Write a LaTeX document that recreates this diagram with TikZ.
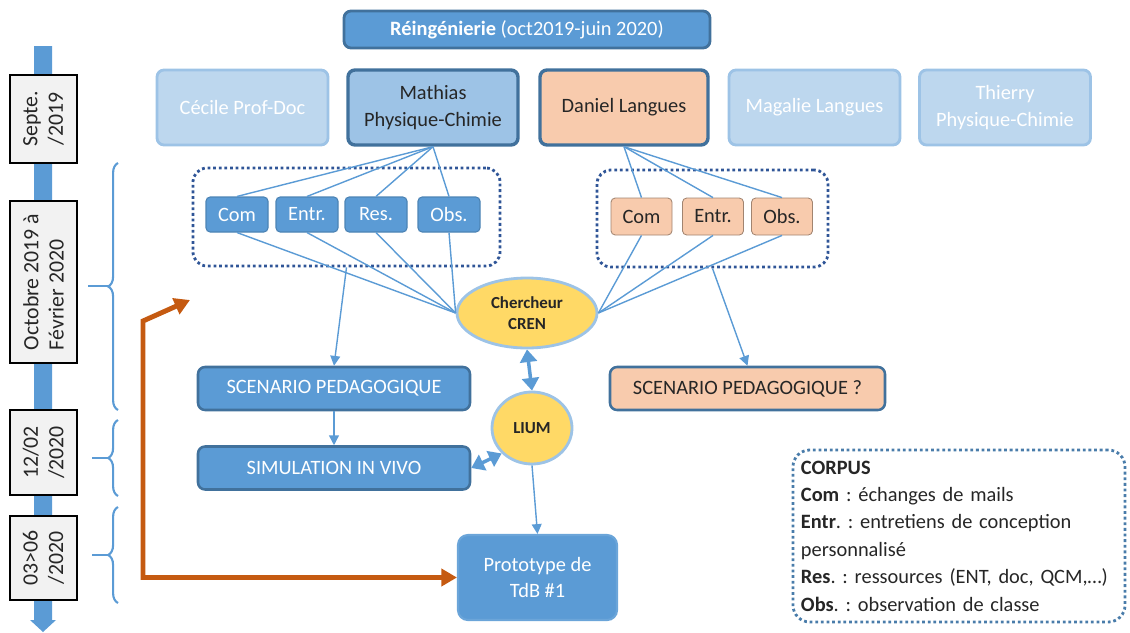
\documentclass[tikz,border=0pt]{standalone}
\usepackage{fontspec}
\setmainfont{Carlito}
\usetikzlibrary{arrows.meta,shapes.geometric,decorations.pathreplacing}
\definecolor{bleu}{HTML}{5B9BD5}
\definecolor{bleufonce}{HTML}{41719C}
\definecolor{bleuclair}{HTML}{9DC3E6}
\definecolor{bleupale}{HTML}{BDD7EE}
\definecolor{peche}{HTML}{F8CBAD}
\definecolor{jaune}{HTML}{FFD966}
\definecolor{orangefonce}{HTML}{C55A11}
\definecolor{gris}{HTML}{F2F2F2}
\definecolor{pointille}{HTML}{2F5597}
\definecolor{texte}{HTML}{262626}
\frenchspacing
\tikzset{
  boite/.style 2 args={rectangle,rounded corners=5pt,align=center,inner sep=1pt,
    minimum width=#1*0.025cm,minimum height=#2*0.025cm,font=\fontsize{14.5}{19}\selectfont},
  titre/.style={fill=bleu,draw=bleufonce,line width=2pt,text=white},
  actif/.style={draw=bleufonce,line width=2.4pt,text=texte},
  pale/.style={fill=bleupale,draw=bleuclair,line width=2pt,text=white},
  sousbleu/.style={fill=bleu,draw=bleu!85!black,line width=0.8pt,text=white,rounded corners=3pt},
  souspeche/.style={fill=peche,draw=peche!65!black,line width=0.6pt,text=texte,rounded corners=3pt},
  groupe/.style={rectangle,draw=pointille,dotted,line width=2pt,rounded corners=10pt},
  bulle/.style 2 args={ellipse,fill=jaune,draw=bleuclair,line width=2pt,align=center,inner sep=0pt,
    minimum width=#1*0.025cm,minimum height=#2*0.025cm,text=texte,font=\bfseries\fontsize{12}{15}\selectfont},
  datebox/.style 2 args={rectangle,fill=gris,draw=black,line width=1.2pt,rotate=90,align=center,inner sep=1pt,
    minimum width=#1*0.025cm,minimum height=#2*0.025cm,text=texte,font=\fontsize{15.5}{18}\selectfont},
  lien/.style={draw=bleu,line width=1pt},
  fleche/.style={lien,-{Triangle[length=7pt,width=7pt]}},
  doublefleche/.style={draw=bleu,line width=2.5pt,{Triangle[length=9pt,width=12pt]}-{Triangle[length=9pt,width=12pt]}},
  accolade/.style={draw=bleu,line width=1.5pt,decorate,decoration={brace,amplitude=7pt}}
}
\begin{document}
\begin{tikzpicture}[x=0.025cm,y=-0.025cm]
\useasboundingbox (0,0) rectangle (1130,632);

\fill[bleu] (34,46) -- (52,46) -- (52,620) -- (56,620) -- (43,632) -- (30,620) -- (34,620) -- cycle;
\node[datebox={88}{67}] (sept) at (43.5,119) {Septe.\\/2019};
\node[datebox={162}{67},align=left] (octo) at (43.5,282) {Octobre 2019 à\\Février 2020};
\node[datebox={85}{67}] (fevr) at (43.5,452.5) {12/02\\/2020};
\node[datebox={84}{67}] (juin) at (43.5,558) {03>06\\/2020};
\draw[accolade] (118,410) -- (118,163);
\draw[accolade] (118,496) -- (118,420);
\draw[accolade] (118,603) -- (118,507);
\draw[draw=bleu,line width=1.5pt] (88,286) -- (109,286) (92,458) -- (109,458) (92,555) -- (109,555);

\node[boite={366}{37},titre] (reing) at (527,29.5) {\textbf{Réingénierie} (oct2019-juin 2020)};
\node[boite={171}{75},pale] (cecile) at (242.5,107.5) {Cécile Prof-Doc};
\node[boite={170}{75},actif,fill=bleuclair] (mathias) at (433,107.5) {Mathias\\Physique-Chimie};
\node[boite={168}{75},actif,fill=peche] (daniel) at (624,107.5) {Daniel Langues};
\node[boite={171}{75},pale] (magalie) at (814.5,107.5) {Magalie Langues};
\node[boite={171}{75},pale] (thierry) at (1005,107.5) {Thierry\\Physique-Chimie};

\node[groupe,minimum width=7.675cm,minimum height=2.45cm] (mgroupe) at (346.5,217) {};
\node[boite={62}{35},sousbleu] (mcom) at (237,214.5) {Com};
\node[boite={62}{35},sousbleu] (mentr) at (307,214.5) {Entr.};
\node[boite={62}{35},sousbleu] (mres) at (376,214.5) {Res.};
\node[boite={62}{35},sousbleu] (mobs) at (449,214.5) {Obs.};

\node[groupe,minimum width=5.775cm,minimum height=2.425cm] (dgroupe) at (712.5,218.5) {};
\node[boite={61}{37},souspeche] (dcom) at (641.5,216.5) {Com};
\node[boite={61}{37},souspeche] (dentr) at (713,216.5) {Entr.};
\node[boite={61}{37},souspeche] (dobs) at (782,216.5) {Obs.};

\node[bulle={140}{70}] (chercheur) at (527,313) {Chercheur\\CREN};
\node[bulle={80}{72}] (lium) at (532,428) {LIUM};

\node[boite={272}{43},titre,line width=1.8pt] (scenL) at (334,388.5) {SCENARIO PEDAGOGIQUE};
\node[boite={272}{43},titre,line width=1.8pt] (simul) at (334,468) {SIMULATION IN VIVO};
\node[boite={275}{43},actif,fill=peche,line width=1.8pt] (scenR) at (747.5,388.5) {SCENARIO PEDAGOGIQUE ?};
\node[boite={159}{85},fill=bleu,draw=bleu!90!white,line width=1.5pt,text=white,rounded corners=7pt] (proto) at (537.5,577.5) {Prototype de\\TdB \#1};

\node[rectangle,draw=bleu!80!black,dotted,line width=2pt,rounded corners=12pt,minimum width=8.3cm,minimum height=4.3cm,
  text width=7.9cm,align=left,text=texte,font=\fontsize{14.5}{19.5}\selectfont] (corpus) at (959,536)
  {\textbf{CORPUS}\\\textbf{Com} : échanges de mails\\\textbf{Entr}. : entretiens de conception\\personnalisé\\
   \textbf{Res}. : ressources (ENT, doc, QCM,…)\\\textbf{Obs}. : observation de classe};

\foreach \b in {mcom,mentr,mres,mobs}
  \draw[lien] (mathias.south) -- (\b.north) (\b.south) -- (chercheur.west);
\foreach \b in {dcom,dentr,dobs}
  \draw[lien] (daniel.south) -- (\b.north) (\b.south) -- (chercheur.east);
\draw[fleche] (mgroupe.south) -- (scenL.north);
\draw[fleche] (dgroupe.south) -- (scenR.north);
\draw[fleche] (scenL.south) -- (simul.north);
\draw[fleche] (lium.south) -- (proto.north);
\draw[doublefleche] (chercheur.south) -- (lium.north);
\draw[doublefleche] (lium.220) -- (simul.east);

\coordinate (retour) at (190,300);
\draw[draw=orangefonce,line width=3.5pt,{Triangle[length=11pt,width=12pt]}-{Triangle[length=11pt,width=12pt]}]
  (retour) -- (143,321) |- (proto.west);
\end{tikzpicture}
\end{document}
